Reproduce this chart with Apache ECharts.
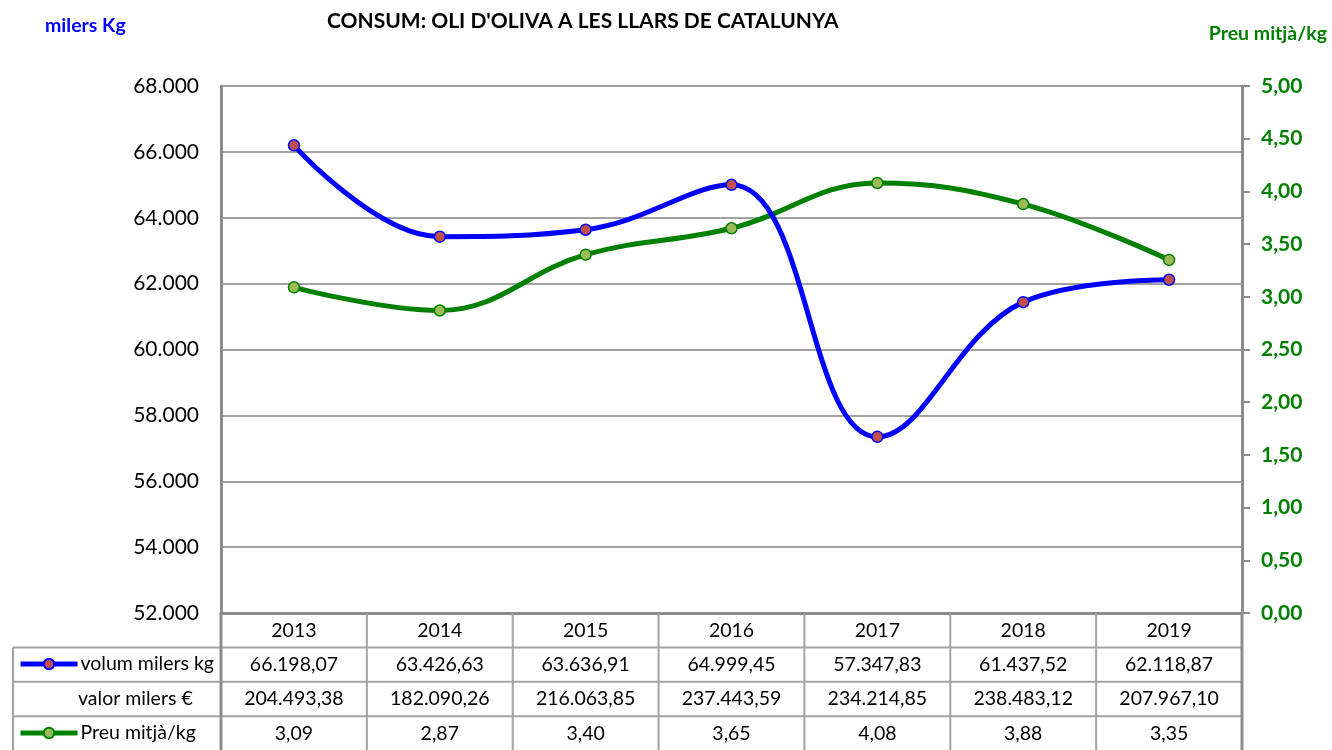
<!DOCTYPE html>
<html>
<head>
<meta charset="utf-8">
<script src="https://cdn.jsdelivr.net/npm/echarts@6/dist/echarts.min.js"></script>
<style>
  html, body { margin: 0; padding: 0; background: #fff; }
  #chart { width: 1332px; height: 750px; }
</style>
</head>
<body>
<div id="chart"></div>
<script>
const years = ['2013', '2014', '2015', '2016', '2017', '2018', '2019']
const volum = [66198.07, 63426.63, 63636.91, 64999.45, 57347.83, 61437.52, 62118.87]
const valor = [204493.38, 182090.26, 216063.85, 237443.59, 234214.85, 238483.12, 207967.10]
const preu = [3.09, 2.87, 3.40, 3.65, 4.08, 3.88, 3.35]
const rowLabels = ['volum milers kg', 'valor milers €', 'Preu mitjà/kg']

const FONT = 'Lato, "Open Sans", sans-serif'
const GRID_LINE = '#a3a3a3'
const AXIS_LINE = '#8c8c8c'
const TABLE_FONT = 19.5

function formatNum(value, decimals) {
  const fixed = Math.abs(value).toFixed(decimals)
  const [intPart, decPart] = fixed.split('.')
  const grouped = intPart.replace(/\B(?=(\d{3})+(?!\d))/g, '.')
  return (value < 0 ? '-' : '') + grouped + (decPart ? ',' + decPart : '')
}

const chart = echarts.init(document.getElementById('chart'))

chart.setOption({
  animation: false,
  textStyle: { fontFamily: FONT },
  title: [
    {
      text: "CONSUM: OLI D'OLIVA A LES LLARS DE CATALUNYA",
      left: 322, top: 6,
      textStyle: { fontSize: 21, fontWeight: 'bold', color: '#000', fontFamily: FONT },
    },
    {
      text: 'milers Kg',
      left: 40, top: 11,
      textStyle: { fontSize: 19.5, fontWeight: 'bold', color: '#0000ff', fontFamily: FONT },
    },
    {
      text: 'Preu mitjà/kg',
      right: 0, top: 19,
      textStyle: { fontSize: 19.5, fontWeight: 'bold', color: '#008000', fontFamily: FONT },
    },
  ],
  legend: [
    {
      data: ['volum milers kg'],
      left: 18, top: 654,
      padding: 0,
      itemWidth: 57, itemHeight: 13, itemGap: 4,
      lineStyle: { width: 5 },
      textStyle: { fontSize: TABLE_FONT, color: '#000', fontFamily: FONT, padding: [0, 0, 0, -2] },
      selectedMode: false,
    },
    {
      data: ['Preu mitjà/kg'],
      left: 18, top: 723,
      padding: 0,
      itemWidth: 57, itemHeight: 13, itemGap: 4,
      lineStyle: { width: 5 },
      textStyle: { fontSize: TABLE_FONT, color: '#000', fontFamily: FONT, padding: [0, 0, 0, -2] },
      selectedMode: false,
    },
  ],
  grid: { left: 221, right: 90, top: 86, bottom: 137 },
  xAxis: {
    type: 'category',
    data: years,
    boundaryGap: true,
    axisLine: { lineStyle: { color: AXIS_LINE, width: 3 } },
    axisTick: { show: false },
    axisLabel: { color: '#000', fontSize: TABLE_FONT, margin: 8, fontFamily: FONT },
    splitLine: { show: false },
  },
  yAxis: [
    {
      type: 'value',
      min: 52000, max: 68000, interval: 2000,
      position: 'left',
      axisLine: { show: true, lineStyle: { color: AXIS_LINE, width: 3 } },
      axisTick: { show: false },
      axisLabel: {
        color: '#000', fontSize: 21, margin: 22, fontFamily: FONT,
        formatter: value => formatNum(value, 0),
      },
      splitLine: { lineStyle: { color: GRID_LINE, width: 2 } },
    },
    {
      type: 'value',
      min: 0, max: 5, interval: 0.5,
      position: 'right',
      axisLine: { show: true, lineStyle: { color: AXIS_LINE, width: 3 } },
      axisTick: { show: true, length: 8, lineStyle: { color: AXIS_LINE, width: 2 } },
      axisLabel: {
        color: '#008000', fontSize: 21, fontWeight: 'bold', margin: 19, fontFamily: FONT,
        formatter: value => formatNum(value, 2),
      },
      splitLine: { show: false },
    },
  ],
  series: [
    {
      name: 'volum milers kg',
      type: 'line',
      yAxisIndex: 0,
      data: volum,
      smooth: 0.4,
      symbol: 'circle',
      symbolSize: 11,
      lineStyle: { color: '#0000ff', width: 5 },
      itemStyle: { color: '#c0504d', borderColor: '#0000ff', borderWidth: 1.5 },
      z: 3,
    },
    {
      name: 'Preu mitjà/kg',
      type: 'line',
      yAxisIndex: 1,
      data: preu,
      smooth: 0.4,
      symbol: 'circle',
      symbolSize: 11,
      lineStyle: { color: '#008000', width: 5 },
      itemStyle: { color: '#9bbb59', borderColor: '#008000', borderWidth: 1.5 },
      z: 2,
    },
  ],
})

// data table under the plot, columns aligned to the category bands
function buildTable() {
  const centers = years.map(y => chart.convertToPixel({ xAxisIndex: 0 }, y))
  const band = centers[1] - centers[0]
  const leftX = centers[0] - band / 2
  const rightX = centers[centers.length - 1] + band / 2
  const topY = chart.convertToPixel({ yAxisIndex: 0 }, 52000)
  const rowH = 34.4
  const tableLeft = 13
  const bottomY = 750
  const els = []

  const line = (x1, y1, x2, y2, color, width) => els.push({
    type: 'line', silent: true, z: 10,
    shape: { x1, y1, x2, y2 },
    style: { stroke: color, lineWidth: width },
  })
  const text = (str, x, y, align) => els.push({
    type: 'text', silent: true, z: 11,
    style: { text: str, x, y, align, verticalAlign: 'middle', fontSize: TABLE_FONT, fontFamily: FONT, fill: '#000' },
  })

  for (let r = 1; r <= 3; r += 1) {
    line(tableLeft, topY + rowH * r, rightX, topY + rowH * r, GRID_LINE, 2)
  }
  line(tableLeft, topY + rowH, tableLeft, bottomY, GRID_LINE, 2)
  for (let i = 1; i < years.length; i += 1) {
    const x = leftX + band * i
    line(x, topY, x, bottomY, GRID_LINE, 2)
  }
  line(leftX, topY, leftX, bottomY, AXIS_LINE, 3)
  line(rightX, topY, rightX, bottomY, AXIS_LINE, 3)

  const rows = [
    volum.map(v => formatNum(v, 2)),
    valor.map(v => formatNum(v, 2)),
    preu.map(v => formatNum(v, 2)),
  ]
  rows.forEach((cells, r) => {
    const cy = topY + rowH * (r + 1.5)
    cells.forEach((c, i) => text(c, centers[i], cy, 'center'))
  })
  text(rowLabels[1], 78, topY + rowH * 2.5, 'left')

  chart.setOption({ graphic: els })
}

buildTable()
</script>
</body>
</html>
